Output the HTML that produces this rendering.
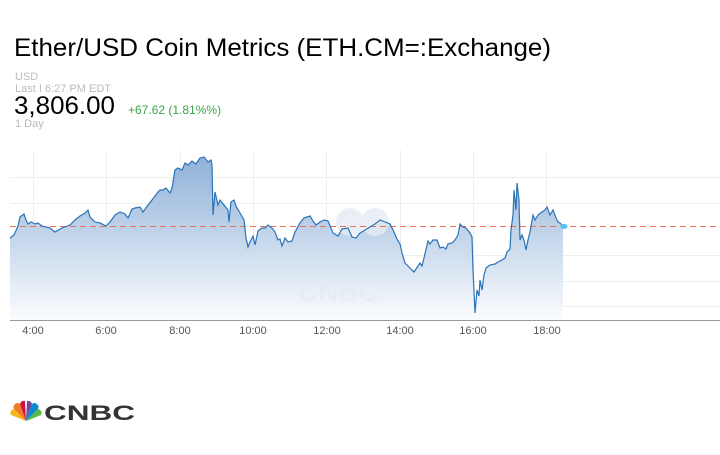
<!DOCTYPE html>
<html><head><meta charset="utf-8"><style>
body{margin:0;width:720px;height:450px;background:#fff;overflow:hidden;font-family:"Liberation Sans",sans-serif}
</style></head><body>
<svg width="720" height="450" viewBox="0 0 720 450" xmlns="http://www.w3.org/2000/svg" font-family="Liberation Sans, sans-serif">
<defs><linearGradient id="g" x1="0" y1="0" x2="0" y2="1">
<stop offset="0" stop-color="#8fb1d8"/><stop offset="1" stop-color="#fbfcfe"/></linearGradient></defs>
<text x="14" y="56" font-size="25" fill="#000" textLength="537" lengthAdjust="spacingAndGlyphs">Ether/USD Coin Metrics (ETH.CM=:Exchange)</text>
<text x="15" y="80" font-size="11" fill="#bbb">USD</text>
<text x="15" y="92" font-size="11" fill="#bbb">Last I 6:27 PM EDT</text>
<text x="14" y="114" font-size="25" fill="#000" textLength="101" lengthAdjust="spacingAndGlyphs">3,806.00</text>
<text x="128" y="114" font-size="12" fill="#3aa64a">+67.62 (1.81%%)</text>
<text x="15" y="127" font-size="11" fill="#bbb">1 Day</text>
<g stroke="#eee" stroke-width="1">
<line x1="10" y1="177.5" x2="720" y2="177.5"/><line x1="10" y1="203.5" x2="720" y2="203.5"/>
<line x1="10" y1="255.5" x2="720" y2="255.5"/><line x1="10" y1="281.5" x2="720" y2="281.5"/><line x1="10" y1="306.5" x2="720" y2="306.5"/>
<line x1="33.5" y1="150" x2="33.5" y2="320"/><line x1="106.5" y1="150" x2="106.5" y2="320"/><line x1="180.5" y1="150" x2="180.5" y2="320"/><line x1="253.5" y1="150" x2="253.5" y2="320"/><line x1="326.5" y1="150" x2="326.5" y2="320"/><line x1="400.5" y1="150" x2="400.5" y2="320"/><line x1="473.5" y1="150" x2="473.5" y2="320"/><line x1="546.5" y1="150" x2="546.5" y2="320"/>
</g>
<polygon fill="url(#g)" points="10,320 10,238 14,235 18,226 20,217 24,214 26,220 28,224 31,222 35,224 38,223 42,226 50,228 55,232 62,228 70,225 75,220 80,216 85,213 88,210 90,217 95,222 100,223 106,226 110,222 115,215 120,212 125,214 128,218 132,209 135,208 140,207 143,212 148,205 152,200 155,196 158,192 160,190 163,190 166,188 170,193 172,188 175,170 178,168 182,170 185,163 188,165 192,161 196,164 200,158 204,157 208,162 211,160 212,165 213,215 215,192 218,205 220,200 224,205 228,210 229,222 231,202 234,200 236,206 240,213 244,220 246,238 248,247 250,242 253,236 255,245 258,231 262,228 265,228 268,225 272,228 275,232 278,240 280,239 282,246 285,238 288,242 292,241 295,232 300,223 304,218 310,216 313,221 316,225 320,222 324,220 328,221 333,233 338,236 342,229 348,228 352,237 356,238 360,233 365,230 370,227 375,224 380,220 385,222 390,224 393,230 397,239 400,244 402,253 405,263 410,268 414,272 418,266 420,263 422,266 424,258 428,241 430,244 433,240 437,240 440,248 443,247 446,249 448,244 452,243 455,240 458,235 460,224 463,227 466,228 470,233 472,237 473,270 475,313 477,290 479,296 480,280 482,290 484,275 486,268 490,265 495,264 498,262 502,260 505,258 507,252 510,249 511,230 513,215 514,190 516,210 517,183 519,200 520,240 522,235 524,240 526,250 528,240 530,232 533,215 535,220 538,215 542,212 545,210 547,207 550,215 553,210 556,218 558,222 560,223 563,226 563,320"/>
<g fill="#e6ecf3" opacity="0.8"><circle cx="350" cy="222" r="14"/><circle cx="375" cy="222" r="14"/><text x="298" y="301" font-size="28" font-weight="bold">CNBC</text></g>
<line x1="10" y1="226.5" x2="720" y2="226.5" stroke="#e8735a" stroke-width="1" stroke-dasharray="6,4"/>
<polyline fill="none" stroke="#2a73b8" stroke-width="1.2" points="10,238 14,235 18,226 20,217 24,214 26,220 28,224 31,222 35,224 38,223 42,226 50,228 55,232 62,228 70,225 75,220 80,216 85,213 88,210 90,217 95,222 100,223 106,226 110,222 115,215 120,212 125,214 128,218 132,209 135,208 140,207 143,212 148,205 152,200 155,196 158,192 160,190 163,190 166,188 170,193 172,188 175,170 178,168 182,170 185,163 188,165 192,161 196,164 200,158 204,157 208,162 211,160 212,165 213,215 215,192 218,205 220,200 224,205 228,210 229,222 231,202 234,200 236,206 240,213 244,220 246,238 248,247 250,242 253,236 255,245 258,231 262,228 265,228 268,225 272,228 275,232 278,240 280,239 282,246 285,238 288,242 292,241 295,232 300,223 304,218 310,216 313,221 316,225 320,222 324,220 328,221 333,233 338,236 342,229 348,228 352,237 356,238 360,233 365,230 370,227 375,224 380,220 385,222 390,224 393,230 397,239 400,244 402,253 405,263 410,268 414,272 418,266 420,263 422,266 424,258 428,241 430,244 433,240 437,240 440,248 443,247 446,249 448,244 452,243 455,240 458,235 460,224 463,227 466,228 470,233 472,237 473,270 475,313 477,290 479,296 480,280 482,290 484,275 486,268 490,265 495,264 498,262 502,260 505,258 507,252 510,249 511,230 513,215 514,190 516,210 517,183 519,200 520,240 522,235 524,240 526,250 528,240 530,232 533,215 535,220 538,215 542,212 545,210 547,207 550,215 553,210 556,218 558,222 560,223 563,226"/>
<ellipse cx="564" cy="226.5" rx="3.5" ry="2.5" fill="#4fc3f7"/>
<line x1="10" y1="320.5" x2="720" y2="320.5" stroke="#999" stroke-width="1"/>
<g font-size="11" fill="#555" text-anchor="middle">
<text x="33" y="334">4:00</text><text x="106" y="334">6:00</text><text x="180" y="334">8:00</text><text x="253" y="334">10:00</text><text x="327" y="334">12:00</text><text x="400" y="334">14:00</text><text x="473" y="334">16:00</text><text x="547" y="334">18:00</text>
</g>
<g transform="translate(26,421)">
<path d="M0,0 L-15,-6 A4,4 0 0 1 -12,-12 Z" fill="#f8b51c"/>
<path d="M0,0 L-12,-12 A4,4 0 0 1 -6,-17 Z" fill="#ef7e22"/>
<path d="M0,0 L-6,-17 A4,4 0 0 1 -1,-20 Z" fill="#d31145"/>
<path d="M0,0 L1,-20 A4,4 0 0 1 6,-17 Z" fill="#6a4c9c"/>
<path d="M0,0 L6,-17 A4,4 0 0 1 12,-12 Z" fill="#0a8bd0"/>
<path d="M0,0 L12,-12 A4,4 0 0 1 15,-6 Z" fill="#58b947"/>
</g>
<text x="44" y="420" font-size="21" font-weight="bold" fill="#333" textLength="91" lengthAdjust="spacingAndGlyphs">CNBC</text>
</svg>
</body></html>
